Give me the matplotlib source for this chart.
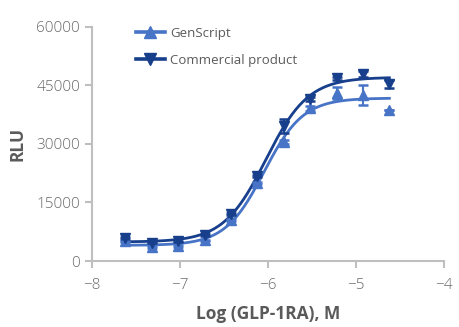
import numpy as np
import matplotlib
matplotlib.use("Agg")
import matplotlib.pyplot as plt

plt.rcParams['font.family'] = ['Open Sans', 'DejaVu Sans']

# log10 concentration of GLP-1RA (M), 2-fold dilutions
log_conc = np.array([-7.62, -7.32, -7.02, -6.72, -6.42, -6.12, -5.82, -5.52, -5.22, -4.92, -4.62])

genscript_mean = np.array([5000, 3600, 3900, 5300, 10500, 19900, 30500, 39100, 43000, 42500, 38600])
genscript_sd = np.array([200, 200, 200, 200, 300, 300, 500, 600, 1500, 2500, 0])

commercial_mean = np.array([5900, 4700, 5000, 6700, 12100, 21800, 34500, 41500, 46800, 47800, 45300])
commercial_sd = np.array([200, 200, 200, 200, 300, 300, 1800, 500, 400, 800, 1000])

series_names = ['GenScript', 'Commercial product']
series_colors = ['#4774C6', '#173F8C']


def four_pl(x, p):
    bottom, top, logec50, hill = p
    return bottom + (top - bottom) / (1 + 10 ** ((logec50 - x) * hill))


def fit_four_pl(x, y):
    # small Levenberg-Marquardt loop for the 4-parameter logistic
    p = np.array([y.min(), y.max(), np.median(x), 1.0])
    lam = 1e-2
    for _ in range(500):
        r = y - four_pl(x, p)
        J = np.empty((len(x), 4))
        for k in range(4):
            dp = np.zeros(4)
            dp[k] = 1e-6 * max(1.0, abs(p[k]))
            J[:, k] = (four_pl(x, p + dp) - four_pl(x, p)) / dp[k]
        A = J.T @ J
        step = np.linalg.solve(A + lam * np.diag(np.diag(A)), J.T @ r)
        p_new = p + step
        if np.sum((y - four_pl(x, p_new)) ** 2) < np.sum(r ** 2):
            p = p_new
            lam *= 0.3
        else:
            lam *= 10
    return p


fig = plt.figure(figsize=(4.6, 3.27), dpi=100)
ax = fig.add_axes([0.2, 0.2018, 0.765, 0.7165])

grid_x = np.linspace(log_conc.min(), log_conc.max(), 300)
markers = ['^', 'v']
for name, color, mk, mean, sd in zip(series_names, series_colors, markers,
                                     [genscript_mean, commercial_mean],
                                     [genscript_sd, commercial_sd]):
    params = fit_four_pl(log_conc, mean.astype(float))
    ax.plot(grid_x, four_pl(grid_x, params), color=color, lw=2.0, zorder=2)
    ax.errorbar(log_conc, mean, yerr=sd, fmt=mk, color=color, ms=7,
                elinewidth=1.5, capsize=3.5, capthick=1.8, zorder=3)
    ax.plot([], [], color=color, lw=2.6, marker=mk, ms=8, label=name)

gray = '#BFBFBF'
text_gray = '#5A5A5A'
tick_gray = '#6A6A6A'
ax.set_xlim(-8, -4)
ax.set_ylim(0, 60000)
ax.set_xticks([-8, -7, -6, -5, -4])
ax.set_yticks([0, 15000, 30000, 45000, 60000])
for side in ['top', 'right']:
    ax.spines[side].set_visible(False)
for side in ['left', 'bottom']:
    ax.spines[side].set_color(gray)
    ax.spines[side].set_linewidth(1.5)
ax.tick_params(colors=gray, width=1.5, length=5, labelcolor=tick_gray, labelsize=11)
ax.tick_params(axis='x', pad=7)
for lab in ax.get_xticklabels() + ax.get_yticklabels():
    lab.set_fontweight('light')

ax.set_xlabel('Log (GLP-1RA), M', fontsize=12.5, fontweight='bold', color=text_gray, labelpad=9)
ax.set_ylabel('RLU', fontsize=12.5, fontweight='bold', color=text_gray, labelpad=7)

ax.legend(loc='upper left', bbox_to_anchor=(0.09, 1.05), frameon=False,
          labelcolor=text_gray, handlelength=2.2, handletextpad=0.4, labelspacing=1.05,
          prop={'weight': 'medium', 'size': 9.5})

fig.savefig('out.png', dpi=100)
